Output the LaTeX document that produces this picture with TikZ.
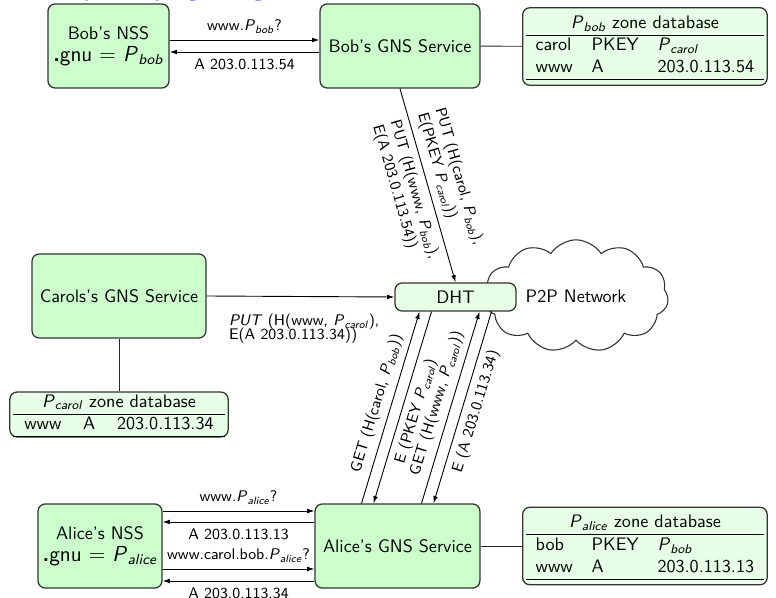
\documentclass[tikz,border=0pt]{standalone}
\usepackage{fontspec}
\usetikzlibrary{shapes.symbols,arrows.meta,calc}
\renewcommand{\familydefault}{\sfdefault}
\newcommand{\PP}[1]{\textit{P}\textsubscript{\textit{#1}}}
\definecolor{boxgreen}{RGB}{204,255,204}
\definecolor{paleg}{RGB}{230,255,230}
\definecolor{slideblue}{rgb}{0.2,0.2,0.8}
\begin{document}
\begin{tikzpicture}[x=0.552pt,y=-0.552pt,
  box/.style={draw=black!80, line width=0.7pt, fill=boxgreen, rounded corners=4pt, align=center, inner sep=2pt},
  zone/.style={draw=black!80, line width=0.7pt, fill=paleg, rounded corners=4pt, inner xsep=2pt, inner ysep=3pt,
    execute at begin node=\setlength{\tabcolsep}{5.2pt}},
  lbl/.style={font=\fontsize{8.5}{10}\selectfont},
  msg/.style={-{Latex[length=4pt,width=2.6pt]}, line width=0.5pt},
  msgback/.style={{Latex[length=4pt,width=2.6pt]}-, line width=0.5pt},
  link/.style={line width=0.5pt, draw=black!85}]
\useasboundingbox (0,0) rectangle (776,598);

% clipped slide title fragments
\node[anchor=base west, inner sep=0, text=slideblue, font=\Large\bfseries] (title) at (78,-5.5)
  {(\hspace{36pt})\hspace{12pt}[\hspace{32pt}]};

% Bob
\node[box, minimum width=66.8pt, minimum height=46.4pt] (bobnss) at (108.5,46)
  {Bob's NSS\\{\large\textbf{.}gnu $=$ \PP{bob}}};
\node[box, minimum width=88.3pt, minimum height=46.4pt] (bobgns) at (400,46) {Bob's GNS Service};
\node[zone, anchor=west] (bobzone) at (522,46.5)
  {\begin{tabular}{lll}\multicolumn{3}{c}{\PP{bob} zone database}\\\hline
   carol & PKEY & \PP{carol}\\ www & A & 203.0.113.54\\\hline\end{tabular}};

% Carol
\node[box, minimum width=96pt, minimum height=46.4pt] (carolgns) at (119,296) {Carols's GNS Service};
\node[zone, inner ysep=0pt, execute at begin node=\setlength{\tabcolsep}{6pt}] (carolzone) at (119,414.5)
  {\begin{tabular}{lll}\multicolumn{3}{c}{\PP{carol} zone database}\\\hline
   www & A & 203.0.113.34\\\hline\end{tabular}};

% DHT and cloud
\node[cloud, cloud ignores aspect, cloud puffs=11, cloud puff arc=115, draw=black!80, fill=white, line width=0.6pt,
  minimum width=102pt, minimum height=62pt] (p2p) at (576,296) {P2P Network};
\node[box, fill=paleg, minimum width=66.8pt, minimum height=15.5pt, inner sep=1pt] (dht) at (455.5,297) {DHT};

% Alice
\node[box, minimum width=68.4pt, minimum height=46.4pt] (alicenss) at (100,546)
  {Alice's NSS\\{\large\textbf{.}gnu $=$ \PP{alice}}};
\node[box, minimum width=91pt, minimum height=46.4pt] (alicegns) at (397.5,546) {Alice's GNS Service};
\node[zone, anchor=west] (alicezone) at (522,546)
  {\begin{tabular}{lll}\multicolumn{3}{c}{\PP{alice} zone database}\\\hline
   bob & PKEY & \PP{bob}\\ www & A & 203.0.113.13\\\hline\end{tabular}};

% links to zone databases
\draw[link] (bobgns) -- (bobzone);
\draw[link] (carolgns) -- (carolzone);
\draw[link] (alicegns) -- (alicezone);

% Bob NSS <-> Bob GNS
\draw[msg] ($(bobnss.east)+(0,-6)$) -- node[lbl, above] (bq) {www.\PP{bob}?} ($(bobgns.west)+(0,-6)$);
\draw[msg] ($(bobgns.west)+(0,6)$) -- node[lbl, below] (ba) {A 203.0.113.54} ($(bobnss.east)+(0,6)$);

% Bob GNS -> DHT
\draw[msg] (bobgns.south) --
  node[lbl, sloped, above, align=left] (bput1) {PUT (H(carol, \PP{bob}),\\E(PKEY \PP{carol}))}
  node[lbl, sloped, below, align=left] (bput2) {PUT (H(www, \PP{bob}),\\E(A 203.0.113.54))}
  (dht.north);

% Carol GNS -> DHT
\draw[msg] (carolgns.east) --
  node[lbl, at start, anchor=north west, xshift=8.8pt, yshift=-6.6pt, align=left] (cput)
  {\textit{PUT} (H(www, \PP{carol}),\\[-2.8pt]E(A 203.0.113.34))}
  (dht.west);

% Alice GNS <-> DHT
\draw[msg] ($(alicegns.north)+(-36,0)$) -- node[lbl, sloped, above] (g1) {GET (H(carol, \PP{bob}))} ($(dht.south)+(-36,0)$);
\draw[msgback] ($(alicegns.north)+(-24,0)$) -- node[lbl, sloped, below] (e1) {E (PKEY \PP{carol})} ($(dht.south)+(-24,0)$);
\draw[msg] ($(alicegns.north)+(24,0)$) -- node[lbl, sloped, above] (g2) {GET (H(www, \PP{carol}))} ($(dht.south)+(24,0)$);
\draw[msgback] ($(alicegns.north)+(36,0)$) -- node[lbl, sloped, below] (e2) {E (A 203.0.113.34)} ($(dht.south)+(36,0)$);

% Alice NSS <-> Alice GNS
\draw[msg] ($(alicenss.east)+(0,-35)$) -- node[lbl, above] (aq1) {www.\PP{alice}?} ($(alicegns.west)+(0,-35)$);
\draw[msg] ($(alicegns.west)+(0,-24)$) -- node[lbl, below] (aa1) {A 203.0.113.13} ($(alicenss.east)+(0,-24)$);
\draw[msg] ($(alicenss.east)+(0,23)$) -- node[lbl, above] (aq2) {www.carol.bob.\PP{alice}?} ($(alicegns.west)+(0,23)$);
\draw[msg] ($(alicegns.west)+(0,35)$) -- node[lbl, below] (aa2) {A 203.0.113.34} ($(alicenss.east)+(0,35)$);
\end{tikzpicture}
\end{document}
